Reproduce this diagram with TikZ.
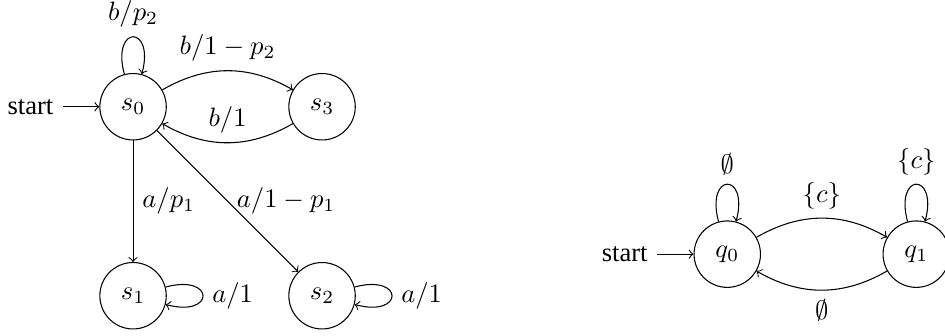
\documentclass[tikz,border=0pt]{standalone}
\usepackage[no-math]{fontspec}
\setmainfont{Liberation Serif}
\usetikzlibrary{automata,positioning}

\begin{document}
\begin{tikzpicture}[->, node distance=2.5cm, on grid, auto,
    loopup/.style={out=105, in=75, distance=6.8mm},
    loopright/.style={out=15, in=-15, distance=6.8mm}]
  \useasboundingbox (0,0) rectangle (12.5,4.432);
  % left automaton
  \node[state, initial] (s0) at (1.76,3.02) {$s_0$};
  \node[state] (s3) [right=of s0] {$s_3$};
  \node[state] (s1) [below=of s0] {$s_1$};
  \node[state] (s2) [right=of s1] {$s_2$};
  \path (s0) edge[loopup] node[above] {$b/p_2$} (s0)
             edge[bend left] node {$b/1-p_2$} (s3)
             edge node {$a/p_1$} (s1)
             edge node[right] {$a/1-p_1$} (s2)
        (s3) edge[bend left] node[swap] {$b/1$} (s0)
        (s1) edge[loopright] node[right] {$a/1$} (s1)
        (s2) edge[loopright] node[right] {$a/1$} (s2);
  % right automaton
  \node[state, initial] (q0) at (9.62,1.07) {$q_0$};
  \node[state] (q1) [right=of q0] {$q_1$};
  \path (q0) edge[loopup] node[above] {$\emptyset$} (q0)
             edge[bend left] node {$\{c\}$} (q1)
        (q1) edge[loopup] node[above] {$\{c\}$} (q1)
             edge[bend left] node {$\emptyset$} (q0);
\end{tikzpicture}
\end{document}
